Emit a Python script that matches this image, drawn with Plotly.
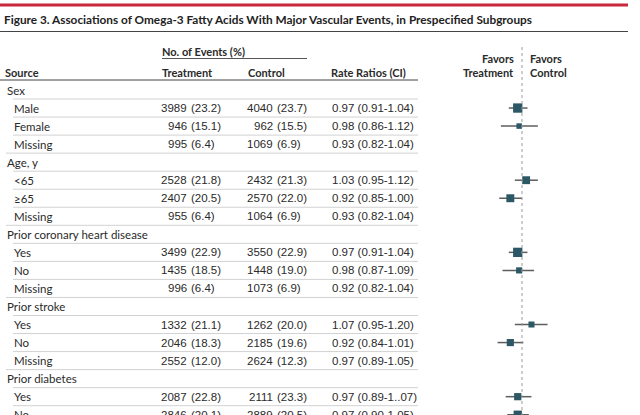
import math
import plotly.graph_objects as go

title = "Figure 3. Associations of Omega-3 Fatty Acids With Major Vascular Events, in Prespecified Subgroups"

row_labels = ["Sex", "Male", "Female", "Missing",
              "Age, y", "<65", "≥65", "Missing",
              "Prior coronary heart disease", "Yes", "No", "Missing",
              "Prior stroke", "Yes", "No", "Missing",
              "Prior diabetes", "Yes", "No"]
row_is_group = [True, False, False, False,
                True, False, False, False,
                True, False, False, False,
                True, False, False, False,
                True, False, False]
treat_events = [None, "3989", "946", "995", None, "2528", "2407", "955", None,
                "3499", "1435", "996", None, "1332", "2046", "2552", None, "2087", "2846"]
treat_pct = [None, "(23.2)", "(15.1)", "(6.4)", None, "(21.8)", "(20.5)", "(6.4)", None,
             "(22.9)", "(18.5)", "(6.4)", None, "(21.1)", "(18.3)", "(12.0)", None, "(22.8)", "(20.1)"]
ctrl_events = [None, "4040", "962", "1069", None, "2432", "2570", "1064", None,
               "3550", "1448", "1073", None, "1262", "2185", "2624", None, "2111", "2889"]
ctrl_pct = [None, "(23.7)", "(15.5)", "(6.9)", None, "(21.3)", "(22.0)", "(6.9)", None,
            "(22.9)", "(19.0)", "(6.9)", None, "(20.0)", "(19.6)", "(12.3)", None, "(23.3)", "(20.5)"]
rr = [None, 0.97, 0.98, 0.93, None, 1.03, 0.92, 0.93, None,
      0.97, 0.98, 0.92, None, 1.07, 0.92, 0.97, None, 0.97, 0.97]
rr_lo = [None, 0.91, 0.86, 0.82, None, 0.95, 0.85, 0.82, None,
         0.91, 0.87, 0.82, None, 0.95, 0.84, 0.89, None, 0.89, 0.90]
rr_hi = [None, 1.04, 1.12, 1.04, None, 1.12, 1.00, 1.04, None,
         1.04, 1.09, 1.04, None, 1.20, 1.01, 1.05, None, 1.07, 1.05]
rr_labels = [None, "0.97 (0.91-1.04)", "0.98 (0.86-1.12)", "0.93 (0.82-1.04)", None,
             "1.03 (0.95-1.12)", "0.92 (0.85-1.00)", "0.93 (0.82-1.04)", None,
             "0.97 (0.91-1.04)", "0.98 (0.87-1.09)", "0.92 (0.82-1.04)", None,
             "1.07 (0.95-1.20)", "0.92 (0.84-1.01)", "0.97 (0.89-1.05)", None,
             "0.97 (0.89-1..07)", "0.97 (0.90-1.05)"]
plotted = [lab != "Missing" and not g for lab, g in zip(row_labels, row_is_group)]

# ---- layout geometry (pixels) ----
W, H = 640, 415
ROW0, ROWH = 90.0, 18.04
PX_PER_LN = 140.0
REF_X = 522.0

def px(p):
    return p / W

def py(p):
    return 1 - p / H

def rowy(p):
    return (p - ROW0) / ROWH

LBL = "Lato, Roboto, sans-serif"
NUM = "Liberation Sans, Arial, sans-serif"
TXT = "#2a2a2a"

fig = go.Figure()

# CI lines
cx, cy = [], []
for i, ok in enumerate(plotted):
    if ok:
        cx += [rr_lo[i], rr_hi[i], None]
        cy += [i, i, None]
fig.add_trace(go.Scatter(x=cx, y=cy, mode="lines", line=dict(color="#5e5e5e", width=1.5),
                         hoverinfo="skip", showlegend=False))

# squares
mx, my, ms = [], [], []
for i, ok in enumerate(plotted):
    if ok:
        mx.append(rr[i])
        my.append(i)
        ms.append(1.6 + 1.03 / math.log(rr_hi[i] / rr_lo[i]))
fig.add_trace(go.Scatter(x=mx, y=my, mode="markers",
                         marker=dict(symbol="square", size=ms, color="#2c5765", opacity=1,
                                     line=dict(width=0)),
                         showlegend=False))

shapes = []
# top red rule (drawn in row coordinates)
shapes.append(dict(type="rect", xref="paper", yref="y", x0=0, x1=px(628), y0=rowy(3.5), y1=rowy(6.5),
                   line=dict(width=0), fillcolor="#c9283c", layer="above"))
shapes.append(dict(type="line", xref="paper", yref="paper", x0=0, x1=px(628), y0=py(31.5), y1=py(31.5),
                   line=dict(color="#444444", width=1)))
shapes.append(dict(type="line", xref="paper", yref="paper", x0=px(162), x1=px(307), y0=py(58.5), y1=py(58.5),
                   line=dict(color="#555555", width=1)))
shapes.append(dict(type="line", xref="paper", yref="paper", x0=0, x1=px(418), y0=py(80), y1=py(80),
                   line=dict(color="#444444", width=1)))
for i in range(len(row_labels) - 1):
    x0 = 6 if row_is_group[i + 1] else 13
    shapes.append(dict(type="line", xref="paper", yref="y", x0=px(x0), x1=px(418), y0=i + 0.5, y1=i + 0.5,
                       line=dict(color="#d2d2d2", width=1)))
shapes.append(dict(type="line", xref="x", yref="paper", x0=1, x1=1, y0=py(47), y1=0,
                   line=dict(color="#9a9a9a", width=1, dash="dot")))

ann = []

def add(text, x, y, anchor="left", font=LBL, size=11.5, bold=False, yref="y", color=TXT):
    ann.append(dict(text=("<b>%s</b>" % text) if bold else text, x=px(x), y=y, xref="paper", yref=yref,
                    xanchor=anchor, yanchor="middle", showarrow=False,
                    font=dict(family=font, size=size, color=color), borderpad=0))

add(title, 3, py(19.5), size=11.8, bold=True, yref="paper", color="#222222")
add("No. of Events (%)", 161, py(51.5), size=11, bold=True, yref="paper")
add("Source", 4, py(72), size=11, bold=True, yref="paper")
add("Treatment", 161, py(72), size=11, bold=True, yref="paper")
add("Control", 247, py(72), size=11, bold=True, yref="paper")
add("Rate Ratios (CI)", 330, py(72), size=11, bold=True, yref="paper")
add("Favors", 515, py(58.5), anchor="right", size=11, bold=True, yref="paper")
add("Treatment", 515, py(72), anchor="right", size=11, bold=True, yref="paper")
add("Favors", 529, py(58.5), size=11, bold=True, yref="paper")
add("Control", 529, py(72), size=11, bold=True, yref="paper")

for i, lab in enumerate(row_labels):
    add(lab, 6 if row_is_group[i] else 13, i)
    if treat_events[i] is not None:
        add(treat_events[i], 188, i, anchor="right", font=NUM, size=11.5)
        add(treat_pct[i], 190, i, font=NUM, size=11.5)
        add(ctrl_events[i], 274, i, anchor="right", font=NUM, size=11.5)
        add(ctrl_pct[i], 276, i, font=NUM, size=11.5)
        add(rr_labels[i], 331, i, font=NUM, size=11.5)

xl = -REF_X / (PX_PER_LN * math.log(10))
xr = (W - REF_X) / (PX_PER_LN * math.log(10))
yt = rowy(0)
yb = rowy(H)

fig.update_layout(
    width=W, height=H, margin=dict(l=0, r=0, t=0, b=0),
    paper_bgcolor="white", plot_bgcolor="white",
    xaxis=dict(type="log", range=[xl, xr], domain=[0, 1], visible=False, fixedrange=True),
    yaxis=dict(range=[yb, yt], domain=[0, 1], visible=False, fixedrange=True),
    shapes=shapes, annotations=ann, showlegend=False,
)

fig.write_html("out.html", config={"displayModeBar": False},
               post_script="document.body.style.margin='0px';document.body.style.padding='0px';"
                           "document.body.style.overflow='hidden';")
